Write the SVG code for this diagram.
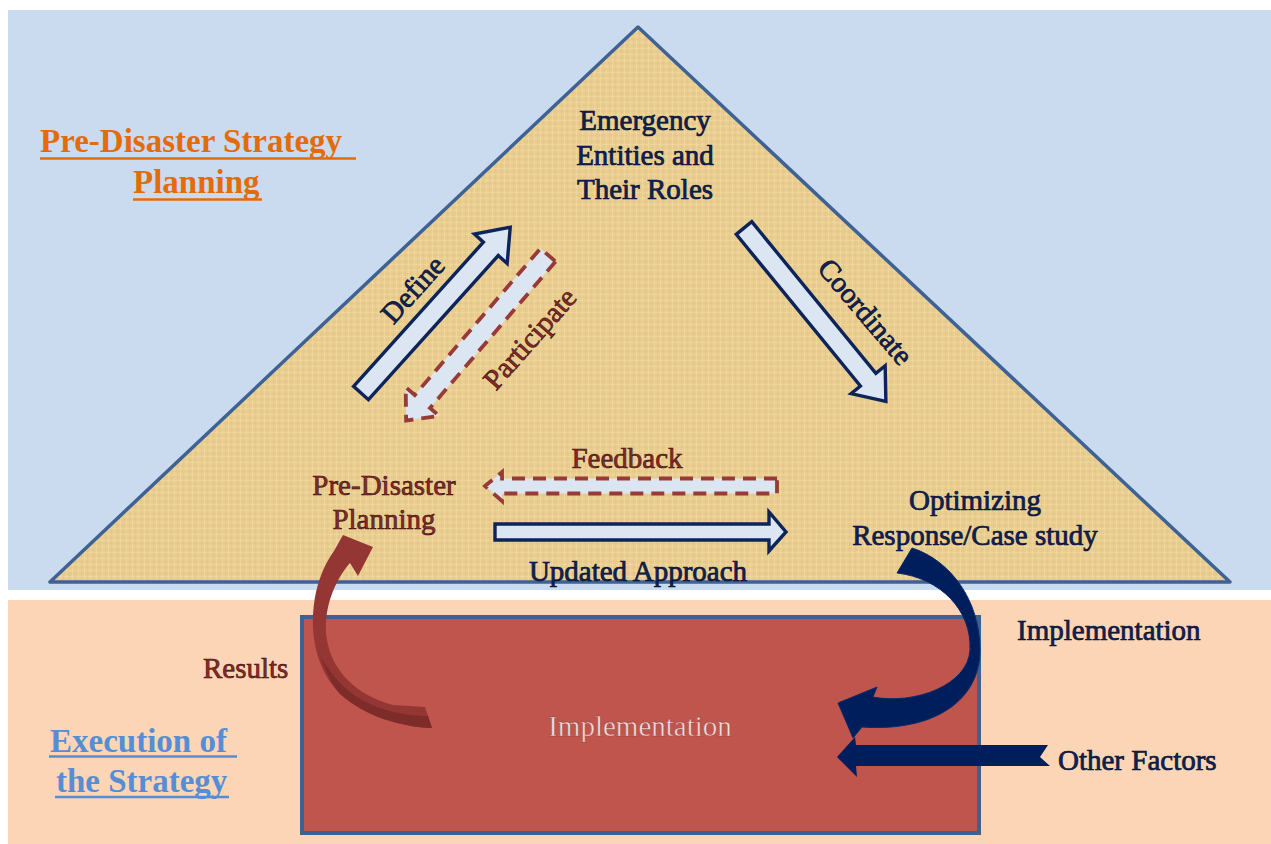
<svg xmlns="http://www.w3.org/2000/svg" width="1271" height="844" viewBox="0 0 1271 844">
<defs>
<style>
.serif{font-family:"Liberation Serif","Times New Roman",serif;}
.navy{fill:#0F2459;stroke:#050F30;stroke-width:0.7;font-size:29px;}
.dred{fill:#8A2A28;stroke:#3A0E0D;stroke-width:0.6;font-size:29px;}
.blockN{fill:#DCE6F2;stroke:#0D245A;stroke-width:3.4;stroke-linejoin:miter;}
.blockR{fill:#DCE6F2;stroke:#973A38;stroke-width:3.8;stroke-dasharray:13 8;stroke-linejoin:miter;}
.heading{font-weight:bold;font-size:33px;}
</style>
<pattern id="canvas" width="6" height="6" patternUnits="userSpaceOnUse">
<rect width="6" height="6" fill="#E9CD8F"/>
<path d="M0,0.5H6M0.5,0V6" stroke="#F3DCA6" stroke-width="1" opacity="0.6"/>
<path d="M0,3.5H6M3.5,0V6" stroke="#DDBE7E" stroke-width="0.8" opacity="0.35"/>
</pattern>
</defs>

<g id="backgrounds">
<rect x="8" y="10" width="1263" height="580" fill="#CADBF0"/>
<rect x="8" y="600" width="1263" height="244" fill="#FBD5B5"/>
</g>

<g id="triangle">
<polygon points="638,27 50,582 1230,582" fill="url(#canvas)" stroke="#3E6293" stroke-width="3.5" stroke-linejoin="round"/>
</g>

<g id="implementation-box">
<rect x="302" y="617" width="677" height="216" fill="#C0554D" stroke="#3F6190" stroke-width="4"/>
<text class="serif" x="640" y="736" text-anchor="middle" font-size="29" fill="#F4DEDC" stroke="#8a3a36" stroke-width="0.4">Implementation</text>
</g>

<g id="label-pre-disaster-strategy">
<text class="serif heading" x="40" y="152" fill="#E36C0A">Pre-Disaster Strategy</text>
<line x1="40" y1="158.5" x2="356" y2="158.5" stroke="#E36C0A" stroke-width="2.5"/>
<text class="serif heading" x="133" y="193" fill="#E36C0A">Planning</text>
<line x1="133" y1="199.5" x2="262" y2="199.5" stroke="#E36C0A" stroke-width="2.5"/>
</g>

<g id="label-execution">
<text class="serif heading" x="50" y="752" fill="#558ED5">Execution of</text>
<line x1="49" y1="756.5" x2="237" y2="756.5" stroke="#558ED5" stroke-width="2.5"/>
<text class="serif heading" x="56" y="792" fill="#558ED5">the Strategy</text>
<line x1="55" y1="797" x2="229" y2="797" stroke="#558ED5" stroke-width="2.5"/>
</g>

<g id="node-emergency">
<text class="serif navy" text-anchor="middle"><tspan x="645" y="130">Emergency</tspan><tspan x="645" y="165">Entities and</tspan><tspan x="645" y="199">Their Roles</tspan></text>
</g>

<g id="node-pre-disaster-planning">
<text class="serif dred" text-anchor="middle"><tspan x="384" y="495">Pre-Disaster</tspan><tspan x="384" y="529">Planning</tspan></text>
</g>

<g id="node-optimizing">
<text class="serif navy" text-anchor="middle"><tspan x="975" y="510">Optimizing</tspan><tspan x="975" y="545">Response/Case study</tspan></text>
</g>

<g id="node-implementation-label">
<text class="serif navy" x="1017" y="640">Implementation</text>
</g>

<g id="node-other-factors">
<text class="serif navy" x="1058" y="770">Other Factors</text>
</g>

<g id="node-results">
<text class="serif dred" x="203" y="678">Results</text>
</g>

<g id="connectors">
<!-- Define -->
<path class="blockN" transform="translate(361,393) rotate(-48)" d="M0,-10 L194,-10 L194,-22 L223,0 L194,22 L194,10 L0,10 Z"/>
<text class="serif navy" transform="translate(420,296) rotate(-48)" text-anchor="middle">Define</text>
<!-- Participate -->
<path class="blockR" transform="translate(548,255) rotate(130.6)" d="M0,-10 L193,-10 L193,-22 L218,0 L193,22 L193,10 L0,10 Z"/>
<text class="serif dred" transform="translate(537,345) rotate(-48.5)" text-anchor="middle">Participate</text>
<!-- Coordinate -->
<path class="blockN" transform="translate(744,228) rotate(50.7)" d="M0,-10 L196,-10 L196,-22 L224,0 L196,22 L196,10 L0,10 Z"/>
<text class="serif navy" transform="translate(858,318) rotate(49.5)" text-anchor="middle">Coordinate</text>
<!-- Feedback -->
<path class="blockR" d="M777,478.5 L502,478.5 L502,472 L485,486 L502,501 L502,493.5 L777,493.5 Z"/>
<text class="serif dred" x="627" y="468" text-anchor="middle">Feedback</text>
<!-- Updated Approach -->
<path class="blockN" d="M495,524 L769,524 L769,512 L786,532 L769,551 L769,540 L495,540 Z"/>
<text class="serif navy" x="638" y="581" text-anchor="middle">Updated Approach</text>
<!-- Results curved arrow -->
<path d="M343,535 L373,547 L358,576 L350,563 C335,580 322,610 327,640 C332,670 355,695 393,705 L425,707 L432,728 C400,727 365,716 340,694 C315,668 308,630 316,592 C320,575 326,562 334,551 Z" fill="#943634"/>
<path d="M320,655 C326,672 332,684 340,694 C365,716 400,727 432,728 L428,716 C400,716 368,708 345,688 C335,678 326,667 320,655 Z" fill="#7A2A28" opacity="0.85"/>
<!-- Implementation curved arrow -->
<path d="M912,548 C950,560 980,600 980,650 C980,700 935,732 862,727 L853,738 L838,703 L877,687 L873,697 C915,705 968,685 970,650 C972,610 940,578 897,573 Z" fill="#001E5C" stroke="#0A2A6A" stroke-width="1"/>
<!-- Other Factors arrow -->
<path d="M1048,745 L856,745 L855,737 L837,757 L857,777 L856,766 L1050,766 L1040,757 Z" fill="#001E5C"/>
</g>
</svg>
